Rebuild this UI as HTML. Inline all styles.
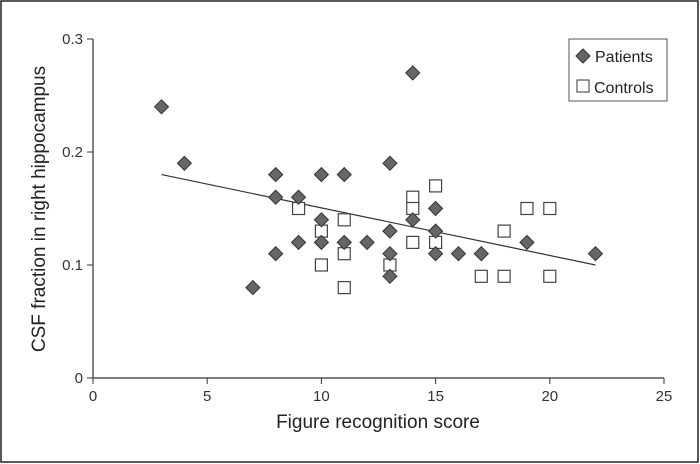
<!DOCTYPE html>
<html><head><meta charset="utf-8"><style>
body{margin:0;background:#fff}
svg{display:block;font-family:"Liberation Sans",sans-serif}
</style></head><body>
<svg width="700" height="464">
<rect x="1" y="1" width="697" height="461" fill="#fff" stroke="#222" stroke-width="1.5"/>
<g id="axes"></g>
<g id="line"></g>
<g id="marks"></g>
<text x="378" y="428" font-size="19" text-anchor="middle" fill="#222">Figure recognition score</text>
<text transform="translate(45,209) rotate(-90)" font-size="19" text-anchor="middle" fill="#222">CSF fraction in right hippocampus</text>
<g>
<rect x="569" y="39" width="98" height="62" fill="#fff" stroke="#555"/>
<path d="M576,56 L583,49 L590,56 L583,63 Z" fill="#666" stroke="#333"/>
<text x="595" y="62" font-size="16" fill="#222">Patients</text>
<rect x="577" y="80" width="12" height="12" fill="#fff" stroke="#333"/>
<text x="594" y="93" font-size="16" fill="#222">Controls</text>
</g>
</svg>
<script>
const xTicks=[0,5,10,15,20,25];
const yTicks=[0,0.1,0.2,0.3];
const yTickLabels=["0","0.1","0.2","0.3"];
const patientsX=[3,4,7,8,8,8,9,9,10,10,10,11,11,12,13,13,13,13,14,14,15,15,15,16,17,19,22];
const patientsY=[0.24,0.19,0.08,0.18,0.16,0.11,0.16,0.12,0.18,0.14,0.12,0.18,0.12,0.12,0.19,0.13,0.11,0.09,0.27,0.14,0.15,0.13,0.11,0.11,0.11,0.12,0.11];
const controlsX=[9,10,10,11,11,11,13,14,14,14,15,15,17,18,18,19,20,20];
const controlsY=[0.15,0.13,0.10,0.14,0.11,0.08,0.10,0.16,0.15,0.12,0.17,0.12,0.09,0.13,0.09,0.15,0.15,0.09];
const fitX=[3,22];
const fitY=[0.18,0.10];
const NS="http://www.w3.org/2000/svg";
const sx=v=>93+v*(664-93)/25;
const sy=v=>378-v*(378-39)/0.3;
function mk(t,a,p){const e=document.createElementNS(NS,t);for(const k in a)e.setAttribute(k,a[k]);p.appendChild(e);return e;}
const ax=document.getElementById('axes');
let l=mk('line',{x1:93,y1:378,x2:664,y2:378,stroke:'#333','stroke-width':1.2},ax);


l=mk('line',{x1:93,y1:39,x2:93,y2:378,stroke:'#333','stroke-width':1.2},ax);


xTicks.forEach(v=>{const t=mk('line',{x1:sx(v),y1:378,x2:sx(v),y2:384,stroke:'#333'},ax);


const tx=mk('text',{x:sx(v),y:401,'font-size':15,'text-anchor':'middle',fill:'#333'},ax);tx.textContent=v;

});
yTicks.forEach((v,i)=>{const t=mk('line',{x1:87,y1:sy(v),x2:93,y2:sy(v),stroke:'#333'},ax);


const tx=mk('text',{x:83,y:sy(v)+5,'font-size':15,'text-anchor':'end',fill:'#333'},ax);tx.textContent=yTickLabels[i];

});
const ln=mk('line',{x1:sx(fitX[0]),y1:sy(fitY[0]),x2:sx(fitX[1]),y2:sy(fitY[1]),stroke:'#333','stroke-width':1.2},document.getElementById('line'));


const mg=document.getElementById('marks');
controlsX.forEach((x,i)=>{const r=mk('rect',{x:sx(x)-6,y:sy(controlsY[i])-6,width:12,height:12,fill:'#fff',stroke:'#444','stroke-width':1.2},mg);

});
patientsX.forEach((x,i)=>{const cx=sx(x),cy=sy(patientsY[i]);const p=mk('path',{d:`M${cx-7},${cy} L${cx},${cy-7} L${cx+7},${cy} L${cx},${cy+7} Z`,fill:'#666',stroke:'#333','stroke-width':1},mg);

});
</script>
</body></html>
